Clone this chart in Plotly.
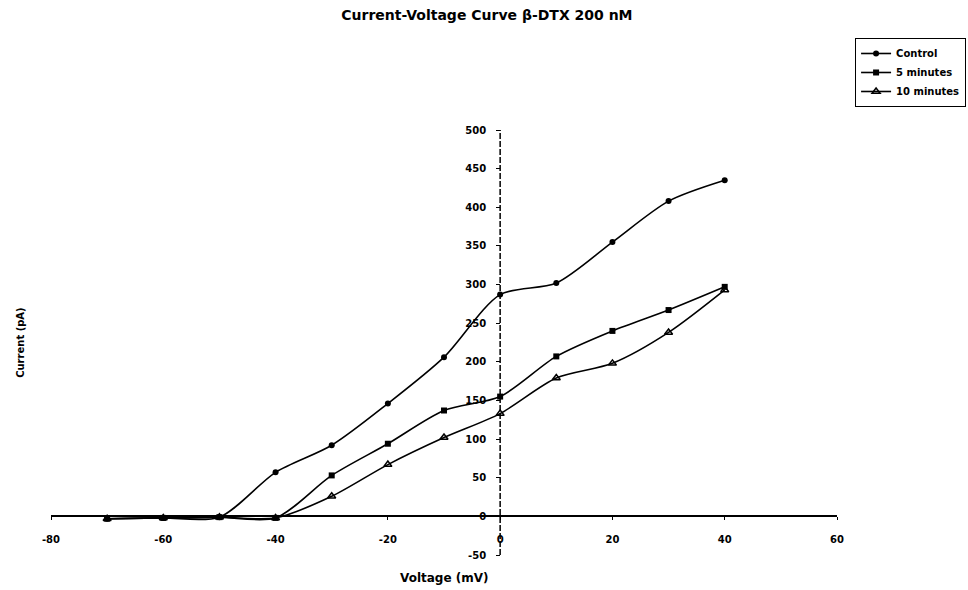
import plotly.graph_objects as go

# Data
voltage = [-70, -60, -50, -40, -30, -20, -10, 0, 10, 20, 30, 40]
control = [-3, -2, -1, 57, 92, 146, 206, 287, 302, 355, 408, 435]
min5 = [-3, -2, -1, -2, 53, 94, 137, 155, 207, 240, 267, 297]
min10 = [-3, -2, -1, -2, 26, 67, 102, 133, 179, 198, 238, 293]

series_names = ["Control", "5 minutes", "10 minutes"]
x_ticks = [-80, -60, -40, -20, 0, 20, 40, 60]
y_ticks = [-50, 0, 50, 100, 150, 200, 250, 300, 350, 400, 450, 500]
x_range = [-80, 60]
y_range = [-50, 500]

FONT = "DejaVu Sans, Liberation Sans, Arial, sans-serif"

fig = go.Figure()
styles = [
    dict(symbol="circle", size=6),
    dict(symbol="square", size=6),
    dict(symbol="triangle-up-open", size=7, line=dict(width=1.5, color="black")),
]
for name, vals, mk in zip(series_names, [control, min5, min10], styles):
    fig.add_trace(go.Scatter(
        x=voltage, y=vals, name=name, mode="lines+markers",
        line=dict(color="black", width=1.6, shape="spline", smoothing=0.8),
        marker=dict(color="black", **mk),
    ))

x_zero_frac = (0 - y_range[0]) / (y_range[1] - y_range[0])
y_zero_frac = (0 - x_range[0]) / (x_range[1] - x_range[0])

fig.update_layout(
    width=968, height=590,
    margin=dict(l=51, r=131, t=130, b=35, autoexpand=False),
    paper_bgcolor="white", plot_bgcolor="white",
    font=dict(family=FONT, color="black", size=10),
    title=dict(text="<b>Current-Voltage Curve β-DTX 200 nM</b>",
               xref="container", x=0.503, xanchor="center",
               yref="container", y=0.974, yanchor="middle",
               font=dict(size=14, family=FONT)),
    xaxis=dict(range=x_range, tickvals=x_ticks, ticktext=[str(v) for v in x_ticks],
               anchor="free", position=x_zero_frac,
               showline=True, linecolor="black", linewidth=1.5,
               ticks="outside", ticklen=3, tickcolor="black",
               showgrid=False, zeroline=False,
               ticklabelstandoff=11,
               tickfont=dict(size=10, family=FONT, weight="bold")),
    yaxis=dict(range=y_range, tickvals=y_ticks, ticktext=[str(v) for v in y_ticks],
               anchor="free", position=y_zero_frac,
               showline=False,
               ticks="outside", ticklen=4, tickcolor="black",
               showgrid=False, zeroline=False,
               ticklabelstandoff=8,
               tickfont=dict(size=10, family=FONT, weight="bold")),
    legend=dict(x=1.023, y=1.2165, xanchor="left", yanchor="top",
                bordercolor="black", borderwidth=1, bgcolor="white",
                font=dict(size=10, family=FONT, weight="bold"), tracegroupgap=0,
                itemwidth=30),
    showlegend=True,
)

# dashed vertical axis line at x = 0
fig.add_shape(type="line", xref="x", yref="y", x0=0, x1=0,
              y0=y_range[0], y1=y_range[1],
              line=dict(color="black", width=1.5, dash="6px,2px"), layer="below")

fig.add_annotation(text="<b>Voltage (mV)</b>", xref="paper", yref="paper",
                   x=0.5, y=-0.054, xanchor="center", yanchor="middle",
                   showarrow=False, font=dict(size=12, family=FONT))
fig.add_annotation(text="<b>Current (pA)</b>", xref="paper", yref="paper",
                   x=-0.039, y=0.5, xanchor="center", yanchor="middle",
                   textangle=-90, showarrow=False, font=dict(size=10, family=FONT))

fig.write_html("out.html")
